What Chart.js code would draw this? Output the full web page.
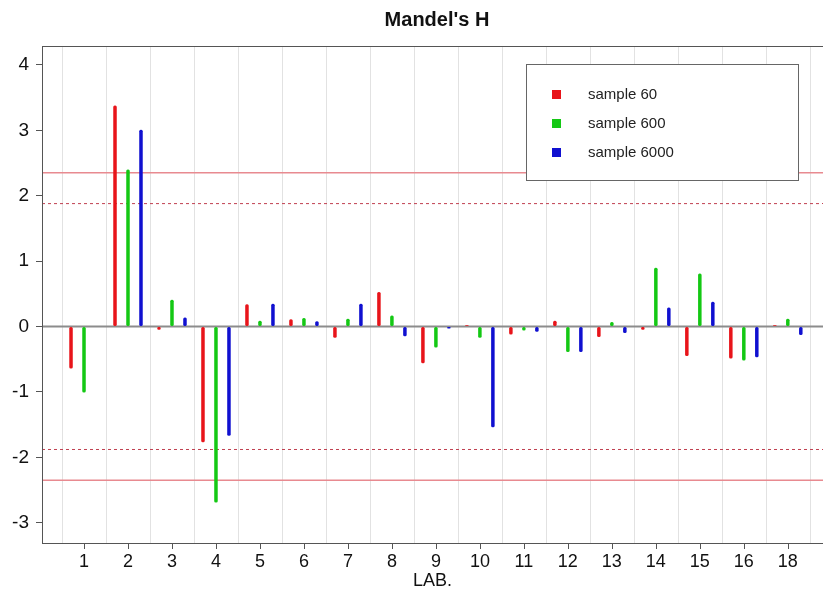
<!DOCTYPE html>
<html>
<head>
<meta charset="utf-8">
<title>Mandel's H</title>
<script src="https://cdn.jsdelivr.net/npm/chart.js@4.4.1/dist/chart.umd.min.js"></script>
<style>
    html, body { margin: 0; padding: 0; background: #fff; }
    #wrap { width: 823px; height: 594px; }
</style>
</head>
<body>
<div id="wrap"><canvas id="mandelH" width="823" height="594"></canvas></div>
<script>
"use strict";

// labs on the x axis (lab 17 is missing in the study)
var labNames = ["1", "2", "3", "4", "5", "6", "7", "8", "9", "10", "11", "12", "13", "14", "15", "16", "18"];

// Mandel's h per lab
var sample60 = [-0.64, 3.38, -0.05, -1.77, 0.34, 0.11, -0.17, 0.53, -0.56, 0.02, -0.12, 0.09, -0.16, -0.05, -0.45, -0.49, 0.02];
var sample600 = [-1.01, 2.40, 0.41, -2.69, 0.09, 0.13, 0.12, 0.17, -0.32, -0.17, -0.06, -0.39, 0.07, 0.90, 0.81, -0.52, 0.12];
var sample6000 = [0, 3.01, 0.14, -1.67, 0.35, 0.08, 0.35, -0.15, -0.03, -1.54, -0.08, -0.39, -0.10, 0.29, 0.38, -0.47, -0.13];

var seriesNames = ["sample 60", "sample 600", "sample 6000"];
var seriesColors = ["#e8141a", "#14c814", "#1010d0"];

var yTicks = [-3, -2, -1, 0, 1, 2, 3, 4];
// critical values: 1% (solid) and 5% (dashed)
var hLimit1 = 2.35;
var hLimit5 = 1.88;

function toPoints(values) {
    return values.map(function (v, i) {
        return { x: i + 1, y: v };
    });
}

var fontMain = "'Liberation Sans', Arial, sans-serif";

var mandelDecor = {
    id: "mandelDecor",
    beforeDatasetsDraw: function (chart) {
        var ctx = chart.ctx;
        var area = chart.chartArea;
        var xs = chart.scales.x;
        var ys = chart.scales.y;
        ctx.save();

        // vertical grid between labs
        ctx.strokeStyle = "#e2e2e2";
        ctx.lineWidth = 1;
        for (var i = 0; i <= labNames.length; i++) {
            var gx = Math.round(xs.getPixelForValue(i + 0.5)) + 0.5;
            ctx.beginPath();
            ctx.moveTo(gx, area.top);
            ctx.lineTo(gx, area.bottom);
            ctx.stroke();
        }

        function hLine(value, color, width, dash) {
            var py = ys.getPixelForValue(value);
            ctx.strokeStyle = color;
            ctx.lineWidth = width;
            ctx.setLineDash(dash);
            ctx.beginPath();
            ctx.moveTo(area.left, py);
            ctx.lineTo(area.right, py);
            ctx.stroke();
        }

        hLine(hLimit1, "#e88a90", 1.5, []);
        hLine(-hLimit1, "#e88a90", 1.5, []);
        hLine(hLimit5, "#c04050", 1, [3, 3]);
        hLine(-hLimit5, "#c04050", 1, [3, 3]);
        hLine(0, "#8c8c8c", 2, []);

        ctx.restore();
    },
    afterDraw: function (chart) {
        var ctx = chart.ctx;
        var area = chart.chartArea;
        var xs = chart.scales.x;
        ctx.save();

        // plot frame
        ctx.strokeStyle = "#555";
        ctx.lineWidth = 1;
        ctx.strokeRect(area.left + 0.5, area.top + 0.5, area.right - area.left, area.bottom - area.top);

        // x tick marks under the frame
        xs.ticks.forEach(function (t) {
            var tx = Math.round(xs.getPixelForValue(t.value)) + 0.5;
            ctx.beginPath();
            ctx.moveTo(tx, area.bottom);
            ctx.lineTo(tx, area.bottom + 6);
            ctx.stroke();
        });

        // title
        ctx.fillStyle = "#111";
        ctx.font = "bold 20px " + fontMain;
        ctx.textAlign = "center";
        ctx.textBaseline = "middle";
        ctx.fillText("Mandel's H", 437, 20);

        // legend box
        ctx.fillStyle = "#fff";
        ctx.fillRect(526, 64, 272, 116);
        ctx.strokeStyle = "#666";
        ctx.strokeRect(526.5, 64.5, 272, 116);
        ctx.font = "15px " + fontMain;
        ctx.textAlign = "left";
        chart.data.datasets.forEach(function (ds, i) {
            var ly = 95 + i * 29;
            ctx.fillStyle = ds.backgroundColor;
            ctx.fillRect(552, ly - 5, 9, 9);
            ctx.fillStyle = "#222";
            ctx.fillText(ds.label, 588, ly);
        });

        ctx.restore();
    }
};

var ctx1 = document.getElementById("mandelH");

var barDefaults = {
    categoryPercentage: 0.886,
    barPercentage: 0.27,
    borderRadius: 1.5,
    borderSkipped: false
};

var datasets = [sample60, sample600, sample6000].map(function (values, i) {
    return Object.assign({
        label: seriesNames[i],
        data: toPoints(values),
        backgroundColor: seriesColors[i],
        borderColor: seriesColors[i]
    }, barDefaults);
});

var mandelChart = new Chart(ctx1, {
    type: "bar",
    data: { datasets: datasets },
    options: {
        responsive: false,
        animation: false,
        layout: { padding: { top: 46, left: 0, right: 0, bottom: 0 } },
        plugins: {
            legend: { display: false },
            title: { display: false },
            tooltip: { enabled: false }
        },
        scales: {
            x: {
                type: "linear",
                offset: false,
                min: 0.045,
                max: 17.8,
                afterBuildTicks: function (scale) {
                    scale.ticks = labNames.map(function (n, i) {
                        return { value: i + 1 };
                    });
                },
                afterFit: function (scale) {
                    scale.height = 51;
                },
                border: { display: false },
                grid: { display: false },
                ticks: {
                    autoSkip: false,
                    maxRotation: 0,
                    padding: 0,
                    color: "#111",
                    font: { family: fontMain, size: 18 },
                    callback: function (value) {
                        return labNames[Math.round(value) - 1];
                    }
                },
                title: {
                    display: true,
                    text: "LAB.",
                    color: "#111",
                    padding: { top: 0, bottom: 2 },
                    font: { family: fontMain, size: 18 }
                }
            },
            y: {
                min: -3.31,
                max: 4.29,
                afterBuildTicks: function (scale) {
                    scale.ticks = yTicks.map(function (v) {
                        return { value: v };
                    });
                },
                afterFit: function (scale) {
                    scale.width = 42;
                },
                border: { display: false },
                grid: {
                    drawOnChartArea: false,
                    drawTicks: true,
                    tickLength: 6,
                    color: "#555"
                },
                ticks: {
                    padding: 7,
                    color: "#111",
                    font: { family: fontMain, size: 19 }
                }
            }
        }
    },
    plugins: [mandelDecor]
});
</script>
</body>
</html>
